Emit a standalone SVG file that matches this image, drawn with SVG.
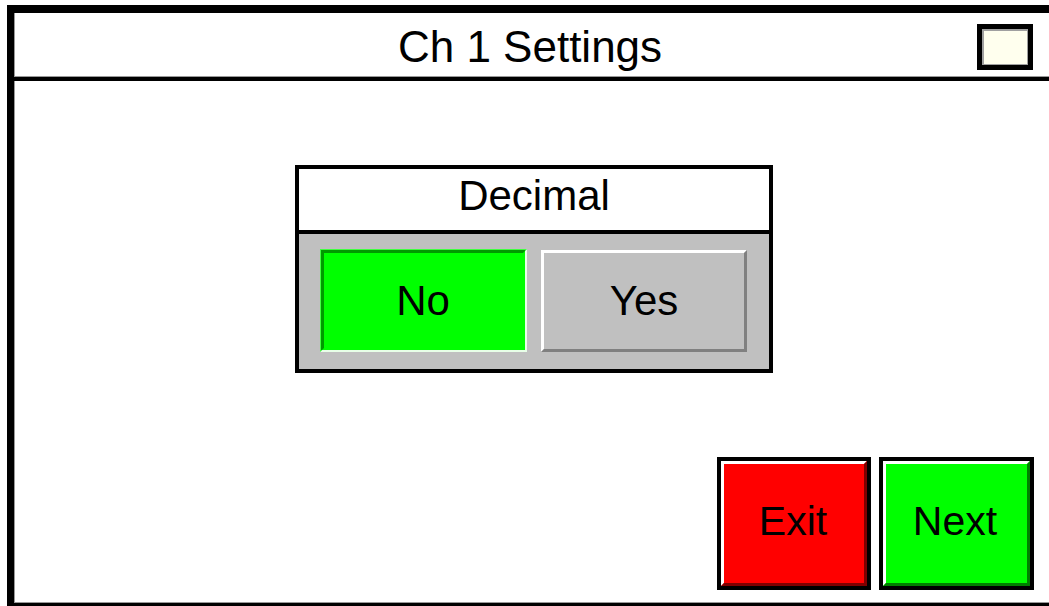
<svg xmlns="http://www.w3.org/2000/svg" width="1049" height="606" viewBox="0 0 1049 606">
<style>
text{font-family:"Liberation Sans",Arial,sans-serif;fill:#000;text-anchor:middle}
.t44{font-size:44px}
.t42{font-size:42px}
.t41{font-size:41px}
</style>
<rect x="0" y="0" width="1049" height="606" fill="#fff"/>
<g id="frame">
<rect x="7" y="5" width="1042" height="8" fill="#000"/>
<rect x="7" y="5" width="7" height="601" fill="#000"/>
<rect x="14" y="13" width="1" height="590" fill="#999"/>
<rect x="14" y="602" width="1035" height="1" fill="#999"/>
<rect x="7" y="603" width="1042" height="3" fill="#000"/>
<rect x="14" y="76" width="1035" height="1" fill="#999"/>
<rect x="7" y="77" width="1042" height="4" fill="#000"/>
</g>
<g id="title">
<text class="t44" x="530" y="62">Ch 1 Settings</text>
</g>
<g id="status-box">
<rect x="977" y="24" width="56" height="46" fill="#000"/>
<rect x="982" y="29" width="46" height="36" fill="#a0a0a0"/>
<rect x="984" y="31" width="43" height="33" fill="#ffffee"/>
</g>
<g id="decimal-panel">
<rect x="297" y="167" width="474" height="204" fill="#c0c0c0" stroke="#000" stroke-width="4"/>
<rect x="299" y="169" width="470" height="61" fill="#fff"/>
<rect x="297" y="230" width="474" height="4" fill="#000"/>
<text class="t42" x="534" y="210">Decimal</text>
</g>
<g id="btn-no">
<rect x="320" y="249" width="207" height="103" fill="#00ff00"/>
<polygon points="320,249 527,249 523,253 324,253 324,348 320,352" fill="#009a00"/>
<polygon points="320,249 527,249 526,250 321,250 321,351 320,352" fill="#40ff40"/>
<polygon points="527,249 527,352 320,352 322,350 525,350 525,251" fill="#e8ffe8"/>
<text class="t42" x="423" y="315">No</text>
</g>
<g id="btn-yes">
<rect x="541" y="250" width="206" height="102" fill="#c0c0c0"/>
<polygon points="541,250 747,250 744,253 544,253 544,349 541,352" fill="#fff"/>
<polygon points="747,250 747,352 541,352 544,349 744,349 744,253" fill="#808080"/>
<text class="t42" x="644" y="315">Yes</text>
</g>
<g id="btn-exit">
<rect x="717" y="457" width="154" height="133" fill="#000"/>
<rect x="721" y="461" width="146" height="125" fill="#ff0000"/>
<polygon points="721,461 867,461 864,464 724,464 724,583 721,586" fill="#fff"/>
<polygon points="867,461 867,586 721,586 724,583 864,583 864,464" fill="#800000"/>
<text class="t41" x="793" y="535">Exit</text>
</g>
<g id="btn-next">
<rect x="879" y="457" width="155" height="133" fill="#000"/>
<rect x="883" y="461" width="147" height="125" fill="#00ff00"/>
<polygon points="883,461 1030,461 1027,464 886,464 886,583 883,586" fill="#fff"/>
<polygon points="1030,461 1030,586 883,586 886,583 1027,583 1027,464" fill="#008000"/>
<text class="t41" x="955" y="535">Next</text>
</g>
<g id="connectors"/>
</svg>
